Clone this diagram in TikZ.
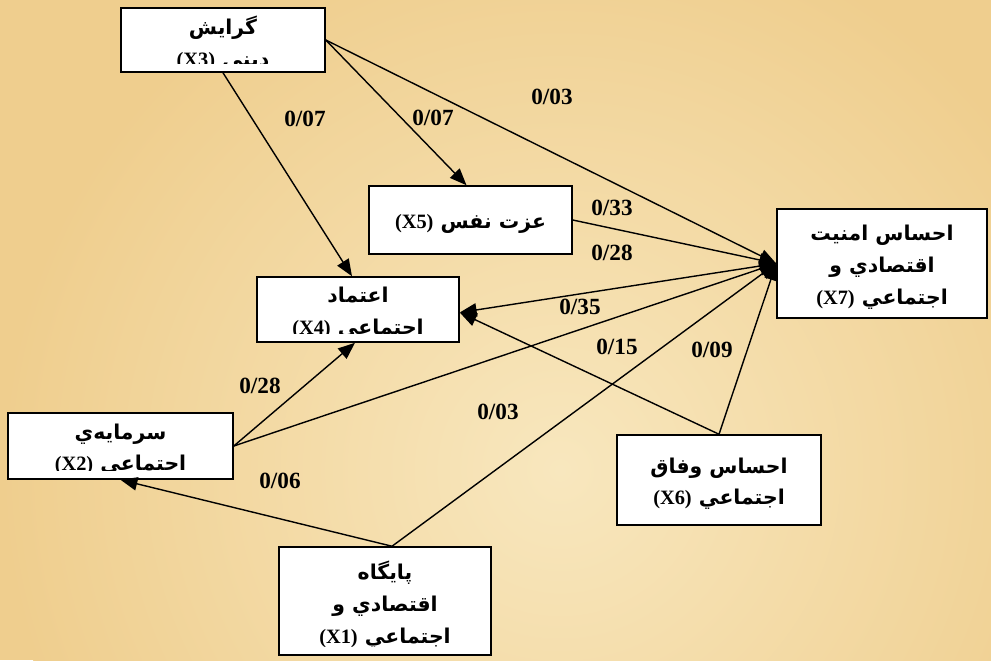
\documentclass[tikz,border=0pt]{standalone}
\usepackage{fontspec}
\setmainfont{Liberation Serif}
\newfontfamily\arabicfont[Script=Arabic]{DejaVu Sans}
\usetikzlibrary{arrows.meta}
\TeXXeTstate=1

\definecolor{bgdark}{RGB}{239,206,142}
\definecolor{bglight}{RGB}{248,231,190}

% latin part inside a right-to-left line
\newcommand{\xvar}[1]{\beginL{\rmfamily\bfseries #1}\endL}

\tikzset{
    varbox/.style 2 args={draw, fill=white, line width=1.1pt, inner sep=0pt,
        minimum width=#1*0.025cm, minimum height=#2*0.025cm},
    boxtext/.style={font=\arabicfont\bfseries\fontsize{14.5}{22.5}\selectfont,
        align=center, inner sep=0pt, anchor=north},
    inbox/.style={path picture={
        \clip ([shift={(4,4)}]path picture bounding box.north west) rectangle
              ([shift={(-4,-9)}]path picture bounding box.south east);
        \node[boxtext] at ([shift={(0,3)}]path picture bounding box.north) {#1};}},
    coef/.style={font=\bfseries\fontsize{16.5}{19}\selectfont},
    link/.style={line width=1pt, -{Triangle[length=12pt,width=9.5pt]}}
}

\begin{document}
\begin{tikzpicture}[x=0.025cm, y=-0.025cm]
    % Background
    \fill[bgdark] (0,0) rectangle (991,660);
    \begin{scope}
        \clip (0,0) rectangle (991,660);
        \shade[inner color=bglight, outer color=bgdark] (560,470) circle (560);
    \end{scope}
    \useasboundingbox (0,0) rectangle (991,660);

    % Variables
    \node[varbox={204}{64}, inbox={\beginR گرايش\endR\\\beginR ديني \xvar{(X3)}\endR}] (X3) at (223,40) {};
    \node[varbox={203}{68}, inbox={\beginR عزت نفس \xvar{(X5)}\endR}] (X5) at (470.5,220) {};
    \node[varbox={202}{65}, inbox={\beginR اعتماد\endR\\\beginR اجتماعي \xvar{(X4)}\endR}] (X4) at (358,309.5) {};
    \node[varbox={210}{109}, inbox={\beginR احساس امنيت\endR\\\beginR اقتصادي و\endR\\\beginR اجتماعي \xvar{(X7)}\endR}] (X7) at (882,263.5) {};
    \node[varbox={225}{66}, inbox={\beginR سرمايه‌ي\endR\\\beginR اجتماعي \xvar{(X2)}\endR}] (X2) at (120.5,446) {};
    \node[varbox={204}{90}, inbox={\beginR احساس وفاق\endR\\\beginR اجتماعي \xvar{(X6)}\endR}] (X6) at (719,480) {};
    \node[varbox={212}{108}, inbox={\beginR پايگاه\endR\\\beginR اقتصادي و\endR\\\beginR اجتماعي \xvar{(X1)}\endR}] (X1) at (385,601) {};

    % Paths
    \draw[link] (X3.south) -- ([shift={(-6,0)}]X4.north);
    \draw[link] (X3.east) -- ([shift={(-4,0)}]X5.north);
    \draw[link] (X3.east) -- (X7.west);
    \draw[link] (X5.east) -- (X7.west);
    \draw[link] (X7.west) -- ([shift={(0,3)}]X4.east);
    \draw[link] (X2.east) -- ([shift={(-3,0)}]X4.south);
    \draw[link] (X2.east) -- (X7.west);
    \draw[link] ([shift={(7,0)}]X1.north) -- (X2.south);
    \draw[link] ([shift={(7,0)}]X1.north) -- (X7.west);
    \draw[link] (X6.north) -- ([shift={(0,3)}]X4.east);
    \draw[link] (X6.north) -- (X7.west);

    % Coefficients
    \node[coef] (c34) at (305,119) {0/07};
    \node[coef] (c35) at (433,118) {0/07};
    \node[coef] (c37) at (552,97) {0/03};
    \node[coef] (c57) at (612,208) {0/33};
    \node[coef] (c27) at (612,253) {0/28};
    \node[coef] (c74) at (580,307) {0/35};
    \node[coef] (c64) at (617,347) {0/15};
    \node[coef] (c67) at (712,350) {0/09};
    \node[coef] (c24) at (260,386) {0/28};
    \node[coef] (c17) at (498,412) {0/03};
    \node[coef] (c12) at (280,481) {0/06};
\end{tikzpicture}
\end{document}
